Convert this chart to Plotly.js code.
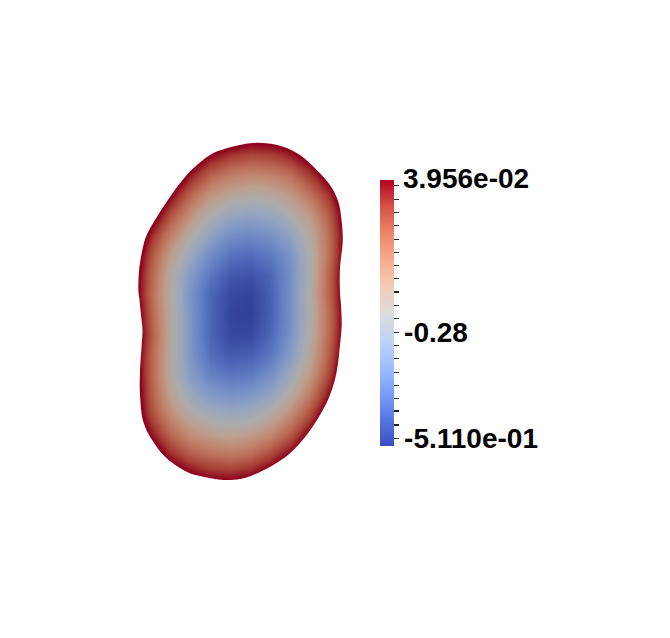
<!DOCTYPE html>
<html>
<head>
<meta charset="utf-8">
<script src="https://cdn.plot.ly/plotly-3.0.1.min.js"></script>
<style>html,body{margin:0;padding:0;background:#fff;}#chart{width:670px;height:638px;}</style>
</head>
<body>
<div id="chart"></div>
<script>
// Sample grid (pixel-space coordinates of the rendered view)
const gridX = [130, 150, 170, 190, 210, 230, 250, 270, 290, 310, 330, 350];
const gridY = [135, 155, 175, 195, 215, 235, 255, 275, 295, 315, 335, 355, 375, 395, 415, 435, 455, 475, 495];
// Scalar field values (colour -> value), one row per gridY
const fieldZ = [
  [0.45, 0.45, 0.357, 0.240, 0.157, 0.112, 0.088, 0.090, 0.119, 0.180, 0.271, 0.382],
  [0.45, 0.386, 0.243, 0.126, 0.040, -0.003, -0.025, -0.020, 0.013, 0.079, 0.174, 0.286],
  [0.45, 0.282, 0.139, 0.023, -0.063, -0.109, -0.129, -0.120, -0.083, -0.011, 0.081, 0.204],
  [0.338, 0.181, 0.046, -0.068, -0.155, -0.203, -0.220, -0.212, -0.167, -0.092, 0.004, 0.149],
  [0.245, 0.096, -0.038, -0.149, -0.237, -0.287, -0.302, -0.288, -0.238, -0.164, -0.047, 0.123],
  [0.181, 0.017, -0.113, -0.221, -0.306, -0.358, -0.371, -0.353, -0.300, -0.213, -0.071, 0.110],
  [0.141, -0.033, -0.177, -0.282, -0.363, -0.418, -0.429, -0.404, -0.345, -0.232, -0.076, 0.125],
  [0.119, -0.058, -0.210, -0.328, -0.410, -0.461, -0.472, -0.441, -0.360, -0.235, -0.056, 0.134],
  [0.117, -0.065, -0.221, -0.346, -0.438, -0.489, -0.498, -0.453, -0.355, -0.223, -0.056, 0.134],
  [0.138, -0.051, -0.211, -0.341, -0.439, -0.496, -0.503, -0.452, -0.358, -0.230, -0.070, 0.119],
  [0.147, -0.039, -0.209, -0.342, -0.440, -0.489, -0.488, -0.441, -0.351, -0.221, -0.063, 0.125],
  [0.134, -0.056, -0.212, -0.341, -0.424, -0.458, -0.453, -0.409, -0.325, -0.202, -0.047, 0.143],
  [0.134, -0.056, -0.211, -0.322, -0.386, -0.411, -0.403, -0.357, -0.276, -0.164, -0.013, 0.171],
  [0.131, -0.045, -0.187, -0.276, -0.330, -0.348, -0.338, -0.295, -0.215, -0.102, 0.040, 0.217],
  [0.143, -0.021, -0.135, -0.216, -0.260, -0.276, -0.263, -0.217, -0.139, -0.028, 0.112, 0.280],
  [0.174, 0.036, -0.067, -0.139, -0.177, -0.192, -0.175, -0.128, -0.051, 0.060, 0.199, 0.367],
  [0.237, 0.110, 0.012, -0.050, -0.083, -0.095, -0.077, -0.026, 0.049, 0.158, 0.297, 0.45],
  [0.313, 0.196, 0.110, 0.051, 0.022, 0.013, 0.033, 0.085, 0.163, 0.268, 0.41, 0.45],
  [0.41, 0.295, 0.217, 0.165, 0.139, 0.130, 0.154, 0.207, 0.286, 0.39, 0.45, 0.45]
];
// Outline of the domain (clockwise from the top)
const outlineX = [250, 266.7, 283.3, 300, 316.7, 330, 338.3, 341.7, 342.7, 340, 340, 341, 341.7, 340, 336.7, 330, 320, 306.7, 290, 273.3, 253.3, 240, 223.3, 203.3, 186.7, 166.7, 153.3, 143.3, 140, 140, 141.7, 142.5, 141, 139.5, 138.3, 139.3, 142.7, 146.7, 155, 166.7, 180, 193.3, 210, 226.7];
const outlineY = [143.3, 143.3, 146.7, 155, 170, 185, 201.7, 221.7, 241.7, 268.3, 291.7, 305, 325, 345, 371.7, 395, 415, 435, 453.3, 465, 475, 479, 480, 476.7, 471.7, 458.3, 441.7, 421.7, 395, 371.7, 345, 330, 315, 300, 288.3, 268.3, 248.3, 235, 220, 201.7, 183.3, 168.3, 155, 148.3];
// Colour range and colour bar ticks
const rangeMin = -0.511;
const rangeMax = 0.03956;
const barTickVals = [0.0286, -0.0004, -0.0273, -0.0542, -0.0832, -0.1101, -0.1370, -0.1647, -0.1923, -0.2198, -0.2467, -0.2757, -0.3026, -0.3295, -0.3585, -0.3854, -0.4123, -0.4386, -0.4676, -0.4951];
const barTickText = ['', '', '', '', '', '', '', '', '', '', '', '-0.28', '', '', '', '', '', '', '', '-5.110e-01'];
const topLabel = '3.956e-02';

const coolWarm = [
  [0.0, '#3b4cc0'], [0.1, '#5977e3'], [0.2, '#7b9ff9'], [0.3, '#9ebeff'],
  [0.4, '#c0d4f5'], [0.5, '#dddcdc'], [0.6, '#f2cbb7'], [0.7, '#f7ac8e'],
  [0.8, '#ee8468'], [0.9, '#d65244'], [1.0, '#b40426']
];

// smooth closed outline (Catmull-Rom through the outline points)
function smoothPath(xs, ys) {
  const n = xs.length;
  const f = v => v.toFixed(2);
  let p = 'M' + f(xs[0]) + ',' + f(ys[0]);
  for (let i = 0; i < n; i++) {
    const i0 = (i - 1 + n) % n, i2 = (i + 1) % n, i3 = (i + 2) % n;
    const c1x = xs[i] + (xs[i2] - xs[i0]) / 6, c1y = ys[i] + (ys[i2] - ys[i0]) / 6;
    const c2x = xs[i2] - (xs[i3] - xs[i]) / 6, c2y = ys[i2] - (ys[i3] - ys[i]) / 6;
    p += ' C' + f(c1x) + ',' + f(c1y) + ' ' + f(c2x) + ',' + f(c2y) + ' ' + f(xs[i2]) + ',' + f(ys[i2]);
  }
  return p + ' Z';
}
const blobPath = smoothPath(outlineX, outlineY);
const maskPath = 'M108,112 L368,112 L368,518 L108,518 Z ' + blobPath;

const labelFont = {family: 'Liberation Sans, Arial, sans-serif', size: 28, color: '#000', weight: 'bold'};

const trace = {
  type: 'heatmap',
  x: gridX, y: gridY, z: fieldZ,
  zsmooth: 'best',
  zmin: rangeMin, zmax: rangeMax,
  colorscale: coolWarm,
  hoverinfo: 'skip',
  colorbar: {
    x: 380 / 670, xanchor: 'left', xpad: 0,
    y: 1 - 313 / 638, yanchor: 'middle', ypad: 0,
    thickness: 14, thicknessmode: 'pixels',
    len: 266, lenmode: 'pixels',
    outlinewidth: 0, borderwidth: 0,
    tickmode: 'array', tickvals: barTickVals, ticktext: barTickText,
    ticks: 'outside', ticklen: 5, tickwidth: 1.2, tickcolor: '#222',
    tickfont: labelFont
  }
};

const layout = {
  width: 670, height: 638,
  margin: {l: 0, r: 0, t: 0, b: 0, pad: 0},
  paper_bgcolor: '#fff', plot_bgcolor: '#fff',
  showlegend: false,
  xaxis: {range: [0, 670], visible: false, fixedrange: true},
  yaxis: {range: [638, 0], visible: false, fixedrange: true},
  shapes: [
    {type: 'path', xref: 'x', yref: 'y', path: blobPath, fillcolor: 'rgba(0,0,0,0.22)', line: {width: 0}, layer: 'above'},
    {type: 'path', xref: 'x', yref: 'y', path: maskPath, fillrule: 'evenodd', fillcolor: '#fff', line: {width: 0}, layer: 'above'},
    {type: 'line', xref: 'x', yref: 'y', x0: 388, x1: 394, y0: 332.3, y1: 332.3, line: {color: '#222', width: 1.2}, layer: 'above'}
  ],
  annotations: [
    {xref: 'x', yref: 'y', x: 401, y: 178, xanchor: 'left', yanchor: 'middle', text: topLabel, showarrow: false, font: labelFont}
  ]
};

Plotly.newPlot('chart', [trace], layout, {displayModeBar: false, staticPlot: true});
</script>
</body>
</html>
